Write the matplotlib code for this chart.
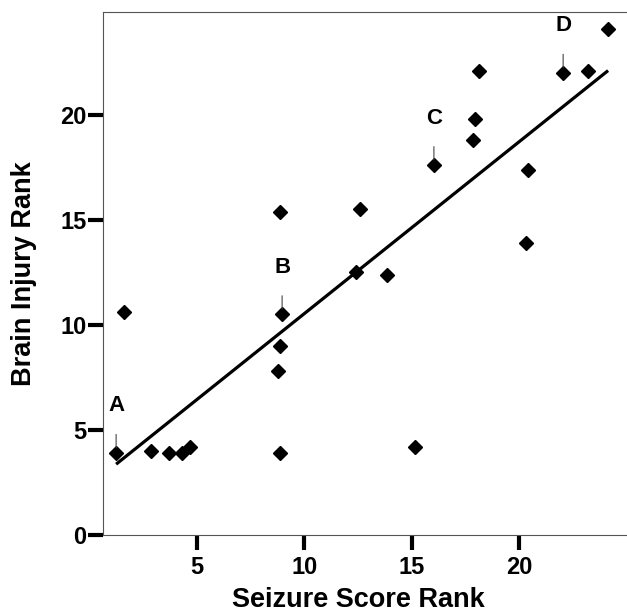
import numpy as np
import matplotlib
matplotlib.use('Agg')
import matplotlib.pyplot as plt

plt.rcParams['font.family'] = ['Liberation Sans', 'DejaVu Sans']
plt.rcParams['font.weight'] = 'bold'

# seizure score rank vs brain injury rank
seizure_rank = [1.24, 1.62, 2.86, 3.72, 4.29, 4.67, 8.77, 8.87, 8.87, 8.96, 8.87,
                12.40, 12.59, 13.83, 15.16, 16.02, 17.83, 17.93, 18.12,
                20.31, 20.40, 22.03, 23.17, 24.12]
injury_rank = [3.9, 10.6, 4.0, 3.9, 3.9, 4.2, 7.8, 9.0, 3.9, 10.5, 15.4,
               12.5, 15.5, 12.4, 4.2, 17.6, 18.8, 19.8, 22.1,
               13.9, 17.4, 22.0, 22.1, 24.1]

# labelled animals
labels = ['A', 'B', 'C', 'D']
label_x = [1.24, 8.96, 16.02, 22.03]
label_y = [3.9, 10.5, 17.6, 22.0]

fig = plt.figure(figsize=(6.27, 6.16), dpi=100)
ax = fig.add_axes([103/627, 81/616, 1 - 103/627, 523/616])

ax.plot(seizure_rank, injury_rank, 'D', color='black', ms=7.5, mec='black')

# least squares line over the data range
slope, icept = np.polyfit(seizure_rank, injury_rank, 1)
xs = np.array([min(seizure_rank), max(seizure_rank)])
ax.plot(xs, slope * xs + icept, color='black', lw=2.3, solid_capstyle='butt')

for lab, lx, ly in zip(labels, label_x, label_y):
    ax.annotate(lab, xy=(lx, ly), xytext=(0, 34), textcoords='offset points',
                ha='center', va='center', fontsize=16, fontweight='bold',
                arrowprops=dict(arrowstyle='-', color='#444444', lw=0.8,
                                shrinkA=11, shrinkB=4))

ax.set_xlim(0.63, 25.0)
ax.set_ylim(0, 24.9)
ax.set_xticks([5, 10, 15, 20])
ax.set_yticks([0, 5, 10, 15, 20])
ax.tick_params(axis='both', direction='out', length=11, width=3, labelsize=17,
               pad=1, color='black')
ax.tick_params(axis='x', pad=4)
for t in ax.get_xticklabels() + ax.get_yticklabels():
    t.set_fontweight('bold')

for s in ['left', 'bottom', 'top']:
    ax.spines[s].set_color('#555555')
    ax.spines[s].set_linewidth(0.8)
ax.spines['right'].set_visible(False)

ax.set_xlabel('Seizure Score Rank', fontsize=19.5, fontweight='bold')
ax.set_ylabel('Brain Injury Rank', fontsize=19.5, fontweight='bold')
ax.xaxis.set_label_coords(0.487, -0.1)
ax.yaxis.set_label_coords(-0.126, 0.5)

fig.savefig('out.png', dpi=100)
